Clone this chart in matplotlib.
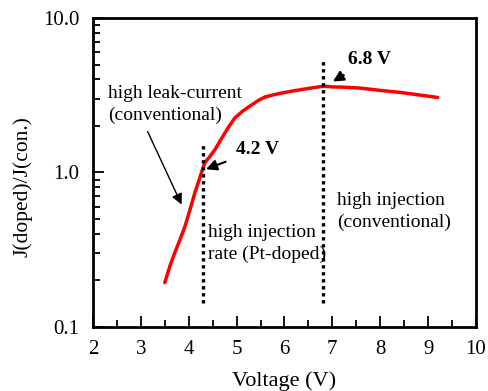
import matplotlib
matplotlib.use("Agg")
import matplotlib.pyplot as plt
from matplotlib.ticker import FixedLocator, LogLocator, FixedFormatter, NullFormatter

plt.rcParams['font.family'] = ['Liberation Serif', 'DejaVu Serif']

voltage = [3.50, 3.61, 3.71, 3.82, 3.92, 4.03, 4.13, 4.22, 4.30, 4.34, 4.45, 4.55, 4.68, 4.80, 4.96, 5.13, 5.30, 5.45, 5.59, 5.80, 5.97, 6.20, 6.45, 6.68, 6.84, 7.00, 7.20, 7.57, 8.00, 8.41, 8.80, 9.20]
ratio = [0.194, 0.25, 0.303, 0.37, 0.447, 0.58, 0.743, 0.90, 1.08, 1.16, 1.28, 1.41, 1.65, 1.90, 2.25, 2.50, 2.72, 2.92, 3.08, 3.20, 3.28, 3.38, 3.48, 3.57, 3.62, 3.58, 3.57, 3.52, 3.40, 3.30, 3.18, 3.06]

vlines_x = [4.3, 6.8]
vlines_top = [1.52, 5.4]
vlines_bottom = 0.144

xticks = [2, 3, 4, 5, 6, 7, 8, 9, 10]
yticks = [0.1, 1.0, 10.0]
ytick_labels = ["0.1", "1.0", "10.0"]

fig = plt.figure(figsize=(4.89, 3.91), dpi=100)
ax = fig.add_axes([93/489, 1-327/391, (476-93)/489, (327-18)/391])

ax.plot(voltage, ratio, color='#ff0000', lw=2.5, solid_capstyle='round', solid_joinstyle='round')
for x, t in zip(vlines_x, vlines_top):
    ax.plot([x, x], [vlines_bottom, t], color='black', lw=2.4, linestyle=(0, (1, 1.1)))

ax.set_yscale('log')
ax.set_xlim(2, 10)
ax.set_ylim(0.1, 10)
ax.xaxis.set_major_locator(FixedLocator(xticks))
ax.xaxis.set_minor_locator(FixedLocator([x + 0.5 for x in xticks[:-1]]))
ax.yaxis.set_major_locator(FixedLocator(yticks))
ax.yaxis.set_major_formatter(FixedFormatter(ytick_labels))
ax.yaxis.set_minor_locator(LogLocator(base=10, subs=range(2, 10)))
ax.yaxis.set_minor_formatter(NullFormatter())
ax.tick_params(which='both', direction='in', top=False, right=False, labelsize=15, width=1.3)
ax.tick_params(which='major', length=8)
ax.tick_params(which='minor', length=5)
ax.tick_params(axis='x', pad=9)
ax.tick_params(axis='y', pad=10)
for s in ax.spines.values():
    s.set_linewidth(2)

ax.set_xlabel("Voltage (V)", fontsize=16, labelpad=9)
ax.set_ylabel("J(doped)/J(con.)", fontsize=15.5)
ax.yaxis.set_label_coords(-0.159, 0.456)

ax.annotate("4.2 V", xy=(4.36, 1.05), xytext=(5.44, 1.41), fontsize=14, fontweight='bold',
            ha='center', va='center',
            arrowprops=dict(arrowstyle='-|>', color='black', lw=1.5, mutation_scale=16, shrinkA=6, shrinkB=0))
ax.annotate("6.8 V", xy=(7.01, 3.88), xytext=(7.78, 5.4), fontsize=14, fontweight='bold',
            ha='center', va='center',
            arrowprops=dict(arrowstyle='-|>', color='black', lw=1.5, mutation_scale=16, shrinkA=6, shrinkB=0))
ax.annotate("high leak-current\n(conventional)", xy=(3.85, 0.62), xytext=(2.31, 2.75), fontsize=14,
            ha='left', va='center', linespacing=1.3,
            arrowprops=dict(arrowstyle='-|>', color='black', lw=1.0, mutation_scale=16, shrinkA=4, shrinkB=0,
                            relpos=(0.27, 0.0)))
ax.text(4.40, 0.347, "high injection\nrate (Pt-doped)", fontsize=14, ha='left', va='center', linespacing=1.3)
ax.text(7.10, 0.56, "high injection\n(conventional)", fontsize=14, ha='left', va='center', linespacing=1.3)

fig.savefig("out.png", dpi=100)
